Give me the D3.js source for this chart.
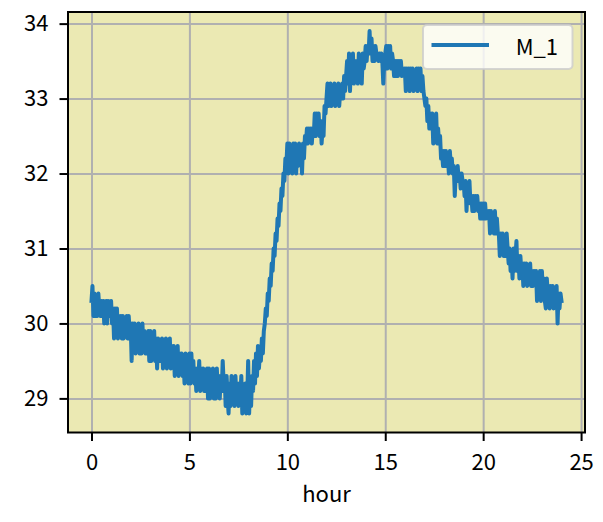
<!DOCTYPE html>
<html>
<head>
<meta charset="utf-8">
<script src="https://cdn.jsdelivr.net/npm/d3@7"></script>
<style>
  html, body { margin: 0; padding: 0; background: #ffffff; }
  svg { display: block; }
</style>
</head>
<body>
<svg id="chart" width="603" height="522"></svg>
<script>
// ---- data, one value every 0.05 hour ----
const seriesName = "M_1";
const xLabel = "hour";
const xTicks = [0, 5, 10, 15, 20, 25];
const yTicks = [29, 30, 31, 32, 33, 34];
const stepHours = 0.05;
const values = [
  // hour 0
  30.3, 30.5, 30.1, 30.4, 30.1, 30.3, 30.1, 30.4, 30.2, 30.1, 30.3, 30.1, 30.3, 30.0, 30.2, 30.3, 30.0, 30.3, 30.1, 30.2,
  // hour 1
  30.3, 30.0, 30.2, 29.8, 30.2, 29.9, 30.2, 29.8, 30.1, 29.9, 30.1, 29.8, 30.1, 29.8, 30.0, 29.9, 30.1, 29.8, 30.1, 29.9,
  // hour 2
  30.0, 29.5, 30.0, 29.7, 30.0, 29.6, 29.9, 29.7, 30.0, 29.6, 29.9, 29.6, 30.0, 29.7, 29.9, 29.6, 29.8, 29.6, 29.9, 29.5,
  // hour 3
  29.9, 29.5, 29.8, 29.6, 29.9, 29.5, 29.8, 29.4, 29.8, 29.5, 29.7, 29.5, 29.8, 29.4, 29.7, 29.5, 29.8, 29.4, 29.7, 29.5,
  // hour 4
  29.8, 29.4, 29.7, 29.5, 29.7, 29.3, 29.6, 29.4, 29.7, 29.3, 29.6, 29.4, 29.6, 29.3, 29.5, 29.2, 29.6, 29.3, 29.5, 29.2,
  // hour 5
  29.6, 29.2, 29.6, 29.3, 29.5, 29.2, 29.4, 29.1, 29.4, 29.2, 29.5, 29.1, 29.4, 29.2, 29.4, 29.1, 29.3, 29.1, 29.4, 29.0,
  // hour 6
  29.4, 29.0, 29.3, 29.1, 29.4, 29.0, 29.3, 29.0, 29.4, 29.1, 29.3, 29.0, 29.3, 29.1, 29.5, 29.2, 29.3, 28.9, 29.3, 29.0,
  // hour 7
  28.8, 29.2, 28.9, 29.3, 29.0, 29.2, 28.9, 29.3, 29.0, 29.2, 28.9, 29.2, 29.0, 29.3, 28.8, 29.1, 28.9, 29.2, 28.8, 29.0,
  // hour 8
  29.5, 28.8, 29.2, 28.9, 29.3, 29.1, 29.5, 29.2, 29.6, 29.3, 29.7, 29.4, 29.6, 29.5, 29.8, 29.6, 29.9, 30.0, 30.2, 30.1,
  // hour 9
  30.4, 30.3, 30.6, 30.5, 30.8, 30.7, 31.0, 30.9, 31.2, 31.1, 31.4, 31.3, 31.6, 31.5, 31.8, 31.7, 32.0, 31.9, 32.2, 32.1,
  // hour 10
  32.4, 32.0, 32.4, 32.1, 32.3, 32.0, 32.4, 32.1, 32.4, 32.0, 32.3, 32.1, 32.4, 32.2, 32.3, 32.0, 32.4, 32.2, 32.5, 32.4,
  // hour 11
  32.6, 32.4, 32.6, 32.5, 32.6, 32.4, 32.6, 32.5, 32.8, 32.5, 32.8, 32.6, 32.8, 32.5, 32.7, 32.4, 32.6, 32.5, 32.9, 32.8,
  // hour 12
  33.0, 33.2, 32.9, 33.1, 33.2, 32.9, 33.1, 33.0, 33.2, 32.9, 33.1, 33.0, 33.2, 32.9, 33.1, 33.0, 33.2, 33.0, 33.3, 33.1,
  // hour 13
  33.3, 33.5, 33.2, 33.6, 33.1, 33.5, 33.3, 33.6, 33.2, 33.5, 33.3, 33.5, 33.2, 33.6, 33.4, 33.5, 33.2, 33.6, 33.4, 33.5,
  // hour 14
  33.7, 33.5, 33.7, 33.6, 33.9, 33.6, 33.8, 33.5, 33.7, 33.5, 33.7, 33.6, 33.6, 33.5, 33.6, 33.5, 33.6, 33.5, 33.2, 33.5,
  // hour 15
  33.6, 33.7, 33.4, 33.7, 33.5, 33.7, 33.4, 33.6, 33.5, 33.3, 33.5, 33.3, 33.5, 33.3, 33.5, 33.4, 33.5, 33.3, 33.4, 33.3,
  // hour 16
  33.4, 33.1, 33.4, 33.2, 33.4, 33.1, 33.4, 33.2, 33.4, 33.1, 33.3, 33.2, 33.4, 33.1, 33.4, 33.2, 33.4, 33.1, 33.3, 33.1,
  // hour 17
  33.0, 32.9, 33.0, 32.7, 32.9, 32.6, 32.8, 32.6, 32.8, 32.4, 32.7, 32.5, 32.8, 32.4, 32.6, 32.4, 32.5, 32.2, 32.3, 32.1,
  // hour 18
  32.3, 32.1, 32.3, 32.1, 32.2, 32.0, 32.3, 32.1, 32.2, 32.0, 32.1, 31.7, 32.0, 31.9, 32.1, 31.9, 32.0, 31.8, 32.0, 31.9,
  // hour 19
  31.9, 31.7, 31.9, 31.5, 31.8, 31.7, 31.9, 31.6, 31.7, 31.5, 31.7, 31.5, 31.7, 31.6, 31.7, 31.5, 31.6, 31.4, 31.6, 31.4,
  // hour 20
  31.6, 31.4, 31.6, 31.4, 31.5, 31.4, 31.5, 31.2, 31.5, 31.3, 31.4, 31.2, 31.5, 31.2, 31.4, 31.2, 31.2, 30.9, 31.2, 31.0,
  // hour 21
  31.2, 30.9, 31.1, 30.9, 31.2, 31.0, 30.8, 31.0, 30.7, 30.9, 30.6, 31.0, 30.7, 30.9, 31.1, 30.7, 30.9, 30.6, 30.9, 30.7,
  // hour 22
  30.8, 30.5, 30.8, 30.6, 30.8, 30.5, 30.7, 30.6, 30.8, 30.5, 30.7, 30.5, 30.7, 30.6, 30.7, 30.3, 30.6, 30.4, 30.7, 30.3,
  // hour 23
  30.7, 30.4, 30.6, 30.3, 30.2, 30.6, 30.4, 30.5, 30.2, 30.5, 30.3, 30.5, 30.2, 30.4, 30.3, 30.5, 30.0, 30.4, 30.2, 30.4,
  // hour 24
  30.3
];
const hours = values.map((v, i) => +(i * stepHours).toFixed(2));

// ---- layout ----
const font = "'Noto Sans CJK JP', 'Noto Sans', sans-serif";
const plot = { left: 68, right: 585, top: 12, bottom: 432.5 };
const svg = d3.select("#chart");

const xExt = d3.extent(hours);
const xPad = (xExt[1] - xExt[0]) * 0.05;
const yExt = d3.extent(values);
const yPad = (yExt[1] - yExt[0]) * 0.05;

const x = d3.scaleLinear().domain([xExt[0] - xPad, xExt[1] + xPad]).range([plot.left, plot.right]);
const y = d3.scaleLinear().domain([yExt[0] - yPad, yExt[1] + yPad]).range([plot.bottom, plot.top]);

// background
svg.append("rect")
  .attr("x", plot.left).attr("y", plot.top)
  .attr("width", plot.right - plot.left).attr("height", plot.bottom - plot.top)
  .attr("fill", "#ebe9b3");

// grid
const gx = svg.append("g").attr("transform", `translate(0,${plot.bottom})`)
  .call(d3.axisBottom(x).tickValues(xTicks).tickSize(-(plot.bottom - plot.top)).tickFormat(""));
const gy = svg.append("g").attr("transform", `translate(${plot.left},0)`)
  .call(d3.axisLeft(y).tickValues(yTicks).tickSize(-(plot.right - plot.left)).tickFormat(""));
[gx, gy].forEach(g => {
  g.select(".domain").remove();
  g.selectAll("line").attr("stroke", "#b0b0b0").attr("stroke-width", 2);
});

// line
const data = hours.map((h, i) => ({ h, v: values[i] }));
svg.append("path")
  .datum(data)
  .attr("fill", "none")
  .attr("stroke", "#1f77b4")
  .attr("stroke-width", 4)
  .attr("stroke-linejoin", "round")
  .attr("stroke-linecap", "square")
  .attr("d", d3.line().x(d => x(d.h)).y(d => y(d.v)));

// spines
svg.append("rect")
  .attr("x", plot.left).attr("y", plot.top)
  .attr("width", plot.right - plot.left).attr("height", plot.bottom - plot.top)
  .attr("fill", "none").attr("stroke", "#000").attr("stroke-width", 2);

// axes
const ax = svg.append("g").attr("transform", `translate(0,${plot.bottom})`)
  .call(d3.axisBottom(x).tickValues(xTicks).tickSize(8.5).tickPadding(13).tickFormat(d3.format("d")));
const ay = svg.append("g").attr("transform", `translate(${plot.left},0)`)
  .call(d3.axisLeft(y).tickValues(yTicks).tickSize(8.5).tickPadding(11).tickFormat(d3.format("d")));
[ax, ay].forEach(g => {
  g.select(".domain").remove();
  g.selectAll("line").attr("stroke", "#000").attr("stroke-width", 2);
  g.selectAll("text").attr("font-family", font).attr("font-size", 22).attr("fill", "#000");
});

// x label
svg.append("text")
  .attr("x", (plot.left + plot.right) / 2).attr("y", 501.5)
  .attr("text-anchor", "middle")
  .attr("font-family", font).attr("font-size", 22).attr("fill", "#000")
  .text(xLabel);

// legend
const lg = svg.append("g");
lg.append("rect")
  .attr("x", 423).attr("y", 25).attr("width", 149.5).attr("height", 44).attr("rx", 4)
  .attr("fill", "#ffffff").attr("fill-opacity", 0.8)
  .attr("stroke", "#cccccc").attr("stroke-opacity", 0.8).attr("stroke-width", 2);
lg.append("line")
  .attr("x1", 431.5).attr("x2", 489).attr("y1", 45).attr("y2", 45)
  .attr("stroke", "#1f77b4").attr("stroke-width", 4);
lg.append("text")
  .attr("x", 558).attr("y", 55)
  .attr("text-anchor", "end")
  .attr("font-family", font).attr("font-size", 22).attr("fill", "#000")
  .text(seriesName);
</script>
</body>
</html>
